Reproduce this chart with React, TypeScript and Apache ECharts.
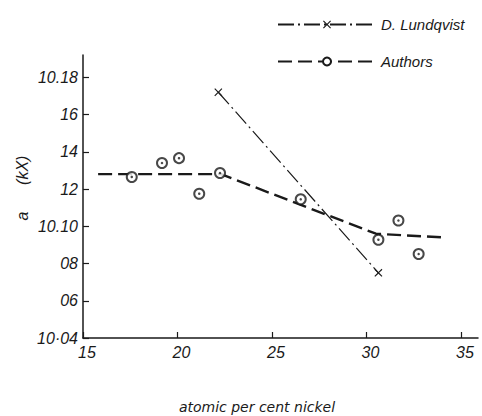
import React, { useEffect, useRef } from "react";
import * as echarts from "echarts";

const xTicks = [15, 20, 25, 30, 35];
const yTickValues = [10.04, 10.06, 10.08, 10.1, 10.12, 10.14, 10.16, 10.18];
const yTickLabels = ["10·04", "06", "08", "10.10", "12", "14", "16", "10.18"];

const lundqvistX = [22.16, 30.63];
const lundqvistY = [10.172, 10.075];

const authorsCurveX = [15.8, 22.3, 30.5, 34.1];
const authorsCurveY = [10.128, 10.128, 10.096, 10.094];

const authorsX = [17.58, 19.18, 20.08, 21.15, 22.25, 26.52, 30.63, 31.69, 32.76];
const authorsY = [10.1265, 10.134, 10.1366, 10.1175, 10.1286, 10.1145, 10.0928, 10.1031, 10.0851];

const xName = "atomic per cent nickel";
const yName = "a      (kX)";

const FONT = "Liberation Sans";
const WIDE = "DejaVu Sans";
const INK = "#1a1a1a";
const CROSS = "path://M0,1L1,0L5,4L9,0L10,1L6,5L10,9L9,10L5,6L1,10L0,9L4,5Z";

export default function App() {
  const ref = useRef<HTMLDivElement>(null);
  useEffect(() => {
    if (!ref.current) return;
    const chart = echarts.init(ref.current, undefined, { renderer: "svg" });
    const zip = (xs: number[], ys: number[]) => xs.map((x, i) => [x, ys[i]]);
    chart.setOption({
      animation: false,
      backgroundColor: "#fff",
      grid: { left: 83, right: 4, top: 55, bottom: 78 },
      legend: {
        left: 272,
        top: 12,
        orient: "vertical",
        itemWidth: 98,
        itemHeight: 10,
        itemGap: 22,
        data: ["D. Lundqvist", "Authors"],
        textStyle: { fontFamily: FONT, fontStyle: "italic", fontSize: 15, color: INK },
      },
      xAxis: {
        type: "value",
        min: 15,
        max: 35.9,
        splitLine: { show: false },
        axisLine: { lineStyle: { color: INK, width: 1.5 } },
        axisTick: { inside: true, length: 6, customValues: xTicks, lineStyle: { color: INK, width: 1.2 } },
        axisLabel: {
          customValues: xTicks,
          margin: 6,
          padding: [0, 0, 0, 8],
          fontFamily: FONT,
          fontStyle: "italic",
          fontSize: 16,
          color: INK,
        },
      },
      yAxis: {
        type: "value",
        min: 10.04,
        max: 10.192,
        splitLine: { show: false },
        axisLine: { lineStyle: { color: INK, width: 1.5 } },
        axisTick: { inside: true, length: 6, customValues: yTickValues, lineStyle: { color: INK, width: 1.2 } },
        axisLabel: {
          customValues: yTickValues,
          margin: 5,
          fontFamily: FONT,
          fontStyle: "italic",
          fontSize: 16,
          color: INK,
          formatter: (v: number) => {
            const i = yTickValues.findIndex((t) => Math.abs(t - v) < 1e-6);
            return i >= 0 ? yTickLabels[i] : "";
          },
        },
      },
      graphic: [
        {
          type: "text",
          x: 257,
          y: 407,
          style: {
            text: xName,
            font: `italic 14px "${WIDE}"`,
            fill: INK,
            align: "center",
            verticalAlign: "middle",
          },
        },
        {
          type: "text",
          x: 22,
          y: 188,
          rotation: Math.PI / 2,
          style: {
            text: yName,
            font: `italic 16px "${FONT}"`,
            fill: INK,
            align: "center",
            verticalAlign: "middle",
          },
        },
      ],
      series: [
        {
          name: "D. Lundqvist",
          type: "line",
          data: zip(lundqvistX, lundqvistY),
          symbol: CROSS,
          symbolSize: 8,
          itemStyle: { color: INK, borderWidth: 0 },
          lineStyle: { color: INK, width: 1.2, type: [16, 4, 2, 4] },
        },
        {
          name: "Authors",
          type: "line",
          data: zip(authorsCurveX, authorsCurveY),
          showSymbol: false,
          symbol: "emptyCircle",
          symbolSize: 7,
          itemStyle: { color: INK, borderWidth: 1.2 },
          lineStyle: { color: INK, width: 2.4, type: [14, 6] },
        },
        {
          type: "scatter",
          data: zip(authorsX, authorsY),
          symbol: "emptyCircle",
          symbolSize: 10,
          itemStyle: { color: INK, borderColor: INK, borderWidth: 1.3 },
          z: 5,
        },
        {
          type: "scatter",
          data: zip(authorsX, authorsY),
          symbol: "circle",
          symbolSize: 2.5,
          itemStyle: { color: INK },
          z: 6,
        },
      ],
    });
    return () => chart.dispose();
  }, []);
  return (
    <div
      ref={ref}
      style={{ position: "fixed", left: 0, top: 0, width: 482, height: 416 }}
    />
  );
}
